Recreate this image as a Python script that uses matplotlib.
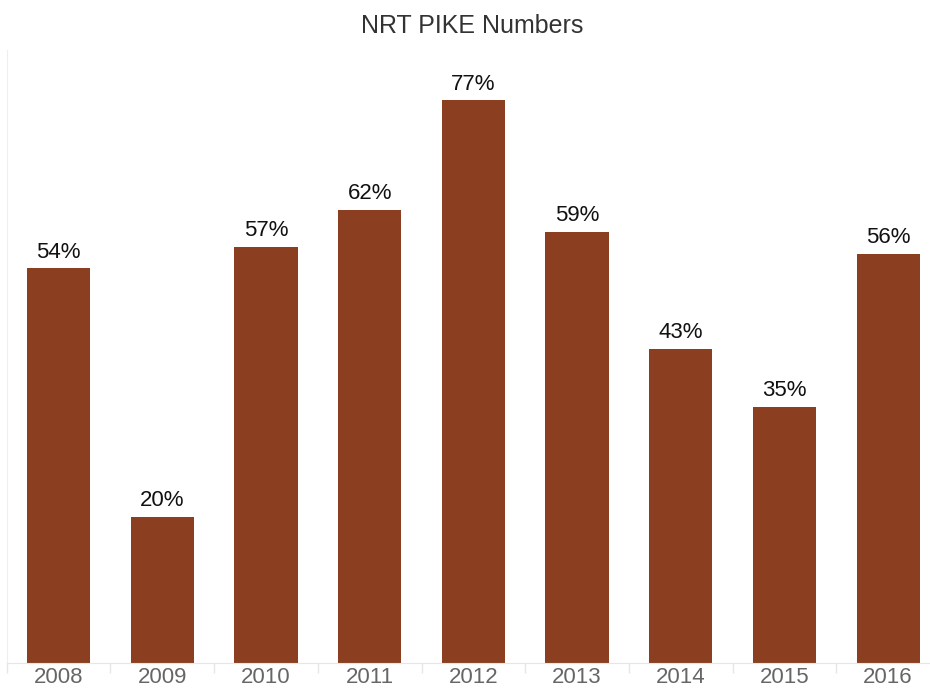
import numpy as np
import matplotlib.pyplot as plt

# Datos del grafico
anios = ['2008', '2009', '2010', '2011', '2012', '2013', '2014', '2015', '2016']
pike = [54, 20, 57, 62, 77, 59, 43, 35, 56]

plt.rcParams['font.family'] = ['Liberation Sans', 'DejaVu Sans']

fig = plt.figure(figsize=(9.3, 6.88), dpi=100)
# el eje se sale un poco por la derecha, como en la imagen original
ax = fig.add_axes([6.7 / 930, 25 / 688, 933.3 / 930, 613 / 688])

x = np.arange(len(anios))
barras = ax.bar(x, pike, width=0.61, color='#8B3E20')

for xi, v in zip(x, pike):
    ax.text(xi, v + 0.8, f'{v}%', ha='center', va='bottom', fontsize=16, color='#111111')

ax.set_xlim(-0.5, len(anios) - 0.5)
ax.set_ylim(0, 83.9)
ax.set_xticks(x)
ax.set_xticklabels(anios, fontsize=16, color='#666666')
ax.set_xticks(np.arange(len(anios) + 1) - 0.5, minor=True)
ax.tick_params(axis='x', which='major', length=0, pad=3)
ax.tick_params(axis='x', which='minor', length=7, color='#e6e6e6', width=1)
ax.set_yticks([])

for lado in ['top', 'right']:
    ax.spines[lado].set_visible(False)
ax.spines['left'].set_color('#eeeeee')
ax.spines['bottom'].set_color('#e6e6e6')
ax.spines['bottom'].set_linestyle((0, (2, 1)))

fig.text(472 / 930, 1 - 26 / 688, 'NRT PIKE Numbers', ha='center', va='center',
         fontsize=18, color='#333333')

fig.savefig('out.png', dpi=100)
